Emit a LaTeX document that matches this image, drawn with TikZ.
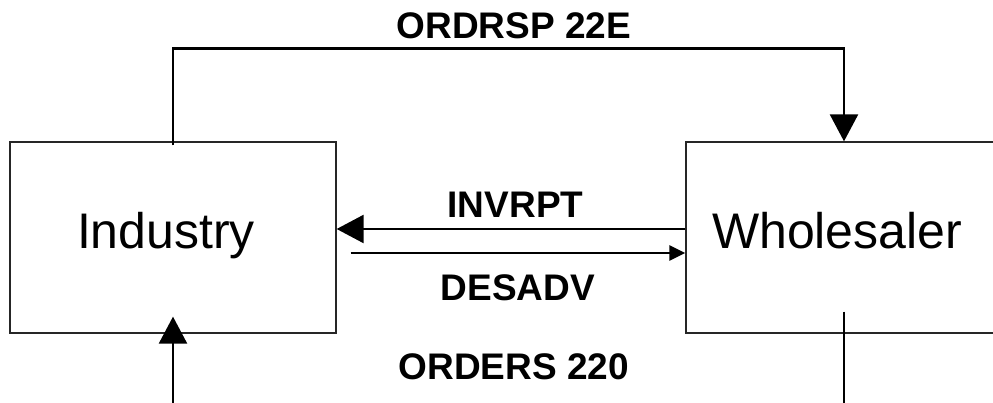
\documentclass[tikz,border=0pt]{standalone}
\usepackage{fontspec}
\setmainfont{Liberation Sans}
\usetikzlibrary{arrows.meta, calc}

\begin{document}
\begin{tikzpicture}[
  x=1pt, y=-1pt,
  party/.style={draw=black!85, line width=1.3pt, minimum height=191pt, align=left, text height=36pt, text depth=14pt, font=\fontsize{50}{56}\selectfont},
  flow/.style={line width=2.4pt},
  bigtip/.style={-{Triangle[length=27pt, width=28pt]}},
  smalltip/.style={-{Triangle[length=16pt, width=15pt]}},
  msg/.style={font=\fontsize{37}{41}\selectfont\bfseries, inner sep=9pt, text height=26.5pt, text depth=0pt}
]
  % Cadre
  \useasboundingbox (0,0) rectangle (993,403);
  \clip (0,0) rectangle (993,403);
  % Partenaires
  \node[party, minimum width=326pt, inner xsep=67pt, text width=192pt] (I) at (173,237.5) {Industry};
  \node[party, minimum width=316pt, inner xsep=26pt, text width=264pt] (W) at (844,237.5) {Wholesaler};
  % Reponse (haut)
  \draw[flow, bigtip] ([yshift=-4pt]I.north) -- ++(0,-97) -| node[msg, above, pos=0.254] {ORDRSP 22E} (W.north);
  % Stock et avis d'expedition
  \draw[flow, bigtip] (W.west |- 0,229) -- node[msg, above=1pt, pos=0.487] {INVRPT} (I.east |- 0,229);
  \draw[flow, smalltip] ($(I.east |- 0,253)+(14,0)$) -- node[msg, below=10.5pt] {DESADV} (W.west |- 0,253);
  % Commande (bas, sort du cadre)
  \draw[flow, bigtip] ([yshift=22pt]W.south) -- ++(0,119) -| node[msg, above=41pt, pos=0.246] {ORDERS 220} ([yshift=17pt]I.south);
\end{tikzpicture}
\end{document}
